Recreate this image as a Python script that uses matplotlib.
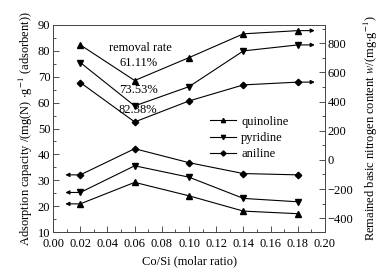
import numpy as np
import matplotlib
matplotlib.use("Agg")
import matplotlib.pyplot as plt
from matplotlib.ticker import MultipleLocator

plt.rcParams['font.family'] = ['Liberation Serif', 'DejaVu Serif']
plt.rcParams['mathtext.fontset'] = 'stix'
plt.rcParams['font.size'] = 9

# Co/Si molar ratio
co_si = [0.02, 0.06, 0.10, 0.14, 0.18]

# adsorption capacity (left axis)
ads_quinoline = [20.9, 29.2, 24.0, 18.1, 17.1]
ads_pyridine = [25.3, 35.6, 31.2, 23.0, 21.7]
ads_aniline = [32.1, 42.2, 36.8, 32.6, 32.1]

# remained basic nitrogen content (right axis)
rem_quinoline = [788, 544, 701, 864, 886]
rem_pyridine = [667, 370, 502, 747, 788]
rem_aniline = [530, 260, 404, 514, 533]

names = ['quinoline', 'pyridine', 'aniline']
markers = ['^', 'v', 'D']
msizes = [3.8, 3.8, 3.3]
rates = ['61.11%', '73.53%', '82.38%']

fig = plt.figure(figsize=(3.85, 2.74), dpi=100)
ax = fig.add_axes([0.138, 0.153, 0.706, 0.756])
ax2 = ax.twinx()

ads = [ads_quinoline, ads_pyridine, ads_aniline]
rem = [rem_quinoline, rem_pyridine, rem_aniline]
handles = []
for i in range(3):
    h, = ax.plot(co_si, ads[i], color='k', lw=0.8, marker=markers[i],
                 ms=msizes[i], label=names[i])
    ax2.plot(co_si, rem[i], color='k', lw=0.8, marker=markers[i], ms=msizes[i])
    handles.append(h)
    # arrows show which axis the curves belong to
    ax.annotate('', xy=(0.009, ads[i][0]), xytext=(co_si[0], ads[i][0]),
                arrowprops=dict(arrowstyle='-|>', color='k', lw=0.8,
                                mutation_scale=6, shrinkA=0, shrinkB=0))
    ax2.annotate('', xy=(0.1925, rem[i][-1]), xytext=(co_si[-1], rem[i][-1]),
                 arrowprops=dict(arrowstyle='-|>', color='k', lw=0.8,
                                 mutation_scale=6, shrinkA=0, shrinkB=0))

ax.set_xlim(0, 0.20)
ax.set_ylim(10, 90)
ax2.set_ylim(-495, 925)

ax.set_xticks(np.arange(0, 0.201, 0.02))
ax.set_xticklabels(['%.2f' % v for v in np.arange(0, 0.201, 0.02)])
ax.xaxis.set_minor_locator(MultipleLocator(0.01))
ax.yaxis.set_major_locator(MultipleLocator(10))
ax.yaxis.set_minor_locator(MultipleLocator(5))
ax2.yaxis.set_major_locator(MultipleLocator(200))
ax2.yaxis.set_minor_locator(MultipleLocator(100))

for a in (ax, ax2):
    a.tick_params(which='both', direction='in', top=False, color='#333333')
    a.tick_params(which='major', length=4, width=0.6, pad=2)
    a.tick_params(which='minor', length=2.5, width=0.6)
    for s in a.spines.values():
        s.set_linewidth(0.6)
        s.set_color('#444444')
ax.tick_params(axis='x', pad=4)

ax.set_xlabel('Co/Si (molar ratio)', labelpad=4)
ax.set_ylabel('Adsorption capacity /(mg(N) $\\cdot$g$^{-1}$ (adsorbent))', labelpad=2)
ax2.set_ylabel('Remained basic nitrogen content $w$/(mg$\\cdot$g$^{-1}$)', labelpad=6)

ax.text(0.32, 0.889, 'removal rate', transform=ax.transAxes, ha='center', va='center')
ypos = [0.816, 0.686, 0.589]
for i in range(3):
    ax.text(0.313, ypos[i], rates[i], transform=ax.transAxes, ha='center', va='center')

ax.legend(handles=handles, loc='upper left', bbox_to_anchor=(0.577, 0.562),
          frameon=False, borderpad=0, borderaxespad=0, handlelength=2.1,
          handletextpad=0.4, labelspacing=0.35, fontsize=9, markerscale=0.8)

fig.savefig('out.png', dpi=100)
